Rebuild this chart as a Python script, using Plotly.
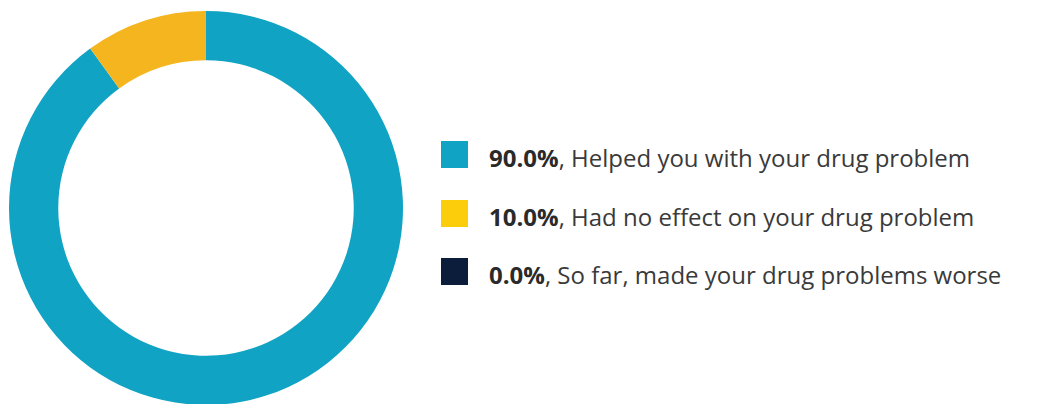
import plotly.graph_objects as go

labels = ["Helped you with your drug problem",
          "Had no effect on your drug problem",
          "So far, made your drug problems worse"]
values = [90.0, 10.0, 0.0]
slice_colors = ["#11A3C3", "#F5B51E", "#0C1C3B"]
legend_colors = ["#11A3C3", "#FBCD0B", "#0C1C3B"]

W, H = 1045, 404
OFF = 8  # page body margin

fig = go.Figure()
fig.add_trace(go.Pie(
    labels=labels, values=values, sort=False, direction="clockwise", rotation=0,
    hole=0.75, textinfo="none", hoverinfo="label+percent",
    marker=dict(colors=slice_colors, line=dict(width=0)),
    domain=dict(x=[(9 - OFF) / W, (403 - OFF) / W],
                y=[1 - (405 - OFF) / H, 1 - (11 - OFF) / H]),
    showlegend=False,
))

total = sum(values)
sq = 27
x0 = 441 - OFF
centers = [154.5 - OFF, 213.5 - OFF, 271.5 - OFF]
for lab, v, col, cy in zip(labels, values, legend_colors, centers):
    fig.add_shape(type="rect", xref="paper", yref="paper",
                  x0=x0 / W, x1=(x0 + sq) / W,
                  y0=1 - (cy + sq / 2) / H, y1=1 - (cy - sq / 2) / H,
                  fillcolor=col, line=dict(width=0))
    pct = 100 * v / total
    fig.add_annotation(xref="paper", yref="paper", x=(487 - OFF) / W, y=1 - (cy + 3) / H,
                       xanchor="left", yanchor="middle", showarrow=False,
                       text=f"<b style='color:#2a2a2a'>{pct:.1f}%</b>, {lab}",
                       font=dict(family="Open Sans", size=24, color="#3a3a3a"))

fig.update_layout(width=W, height=H, margin=dict(l=0, r=0, t=0, b=0),
                  paper_bgcolor="white", plot_bgcolor="white")
fig.write_html("out.html")
